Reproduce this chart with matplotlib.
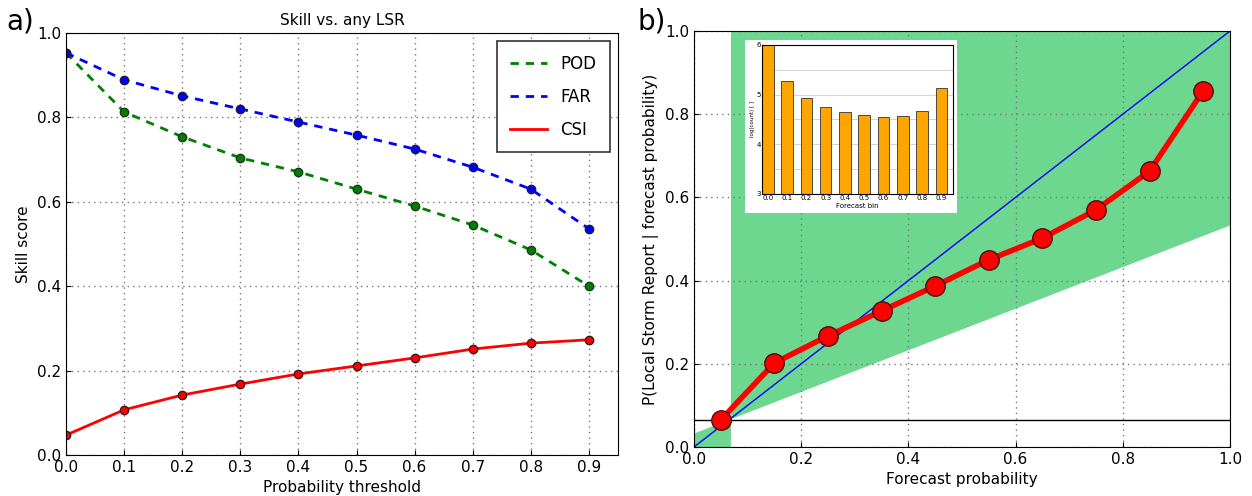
import numpy as np
import matplotlib
matplotlib.use("Agg")
import matplotlib.pyplot as plt
from matplotlib.patches import Rectangle

# panel a) skill scores vs probability threshold
thresholds = [0.0, 0.1, 0.2, 0.3, 0.4, 0.5, 0.6, 0.7, 0.8, 0.9]
pod = [0.953, 0.813, 0.754, 0.704, 0.671, 0.630, 0.590, 0.545, 0.486, 0.400]
far = [0.953, 0.889, 0.851, 0.820, 0.789, 0.758, 0.725, 0.682, 0.630, 0.536]
csi = [0.047, 0.107, 0.142, 0.168, 0.192, 0.211, 0.230, 0.251, 0.265, 0.273]

# panel b) reliability diagram
fcst_prob = [0.05, 0.15, 0.25, 0.35, 0.45, 0.55, 0.65, 0.75, 0.85, 0.95]
obs_freq = [0.065, 0.202, 0.267, 0.327, 0.387, 0.450, 0.502, 0.570, 0.663, 0.856]
clim = 0.068

# inset histogram
bins = [0.0, 0.1, 0.2, 0.3, 0.4, 0.5, 0.6, 0.7, 0.8, 0.9]
logcount = [6.05, 5.28, 4.94, 4.75, 4.65, 4.59, 4.55, 4.57, 4.68, 5.14]

plt.rcParams['font.family'] = ['DejaVu Sans']
fig = plt.figure(figsize=(12.52, 4.96), dpi=100)
gridkw = dict(color='#777777', linestyle=(0, (1, 3)), lw=1.0)

# ---- a)
ax1 = fig.add_axes([0.0527, 0.0827, 0.4409, 0.8508])
ax1.plot(thresholds, pod, '--', color='green', lw=2, dashes=(3, 2.5), label='POD')
ax1.plot(thresholds, far, '--', color='blue', lw=2, dashes=(3, 2.5), label='FAR')
ax1.plot(thresholds, csi, '-', color='red', lw=2, label='CSI')
ax1.plot(thresholds, pod, 'o', color='green', mec='#1a3a1a', ms=6)
ax1.plot(thresholds, far, 'o', color='blue', mec='#1a1a3a', ms=6)
ax1.plot(thresholds, csi, 'o', color='red', mec='#3a1a1a', ms=6)
ax1.set_xlim(0, 0.95)
ax1.set_ylim(0, 1.0)
ax1.set_xticks(thresholds)
ax1.set_yticks([0, 0.2, 0.4, 0.6, 0.8, 1.0])
ax1.grid(True, **gridkw)
ax1.set_title('Skill vs. any LSR', fontsize=11)
ax1.set_xlabel('Probability threshold', fontsize=11)
ax1.set_ylabel('Skill score', fontsize=11)
ax1.tick_params(labelsize=11, direction='in')
leg = ax1.legend(loc='upper right', fontsize=12, fancybox=False, framealpha=1,
                 edgecolor='#333333', borderpad=0.8, labelspacing=0.9, handlelength=2.2)
leg.get_frame().set_linewidth(1.2)

# ---- b)
ax2 = fig.add_axes([0.5543, 0.0988, 0.4281, 0.8387])
green = '#6dd78f'
ax2.fill_between([clim, 1.0], [clim, (1.0 + clim) / 2], [1, 1], color=green, lw=0)
ax2.fill_between([0.0, clim], [0, 0], [clim / 2, clim], color=green, lw=0)
ax2.plot([0, 1], [0, 1], color='blue', lw=1)
ax2.axhline(clim - 0.003, color='k', lw=1)
ax2.plot(fcst_prob, obs_freq, '-', color='red', lw=4)
ax2.plot(fcst_prob, obs_freq, 'o', color='red', mec='#4a1010', ms=14)
ax2.set_xlim(0, 1)
ax2.set_ylim(0, 1)
ax2.set_xticks([0, 0.2, 0.4, 0.6, 0.8, 1.0])
ax2.set_yticks([0, 0.2, 0.4, 0.6, 0.8, 1.0])
ax2.grid(True, **gridkw)
ax2.set_xlabel('Forecast probability', fontsize=11)
ax2.set_ylabel('P(Local Storm Report | forecast probability)', fontsize=11)
ax2.tick_params(labelsize=11, direction='in')

# white backing for the inset
fig.patches.append(Rectangle((0.595, 0.5706), 0.1693, 0.3488, transform=fig.transFigure,
                             facecolor='white', edgecolor='none', zorder=5))
ax3 = fig.add_axes([0.6086, 0.6089, 0.1526, 0.3004], zorder=6)
ax3.bar(bins, logcount, width=0.06, color='orange', edgecolor='#333333', lw=0.6)
ax3.set_xlim(-0.03, 0.96)
ax3.set_ylim(3, 6)
ax3.set_xticks(bins)
ax3.set_yticks([3, 4, 5, 6])
ax3.set_yticks([3.5, 4.5, 5.5], minor=True)
ax3.grid(True, axis='y', which='both', color='#cccccc', linestyle='-', lw=0.6)
ax3.set_axisbelow(True)
ax3.tick_params(labelsize=5, length=2, direction='in', pad=1)
ax3.tick_params(which='minor', length=0)
ax3.set_xlabel('Forecast bin', fontsize=5, labelpad=1)
ax3.set_ylabel('log(count) [ ]', fontsize=4, labelpad=1)

fig.text(0.005, 0.985, 'a)', fontsize=20, va='top')
fig.text(0.509, 0.985, 'b)', fontsize=20, va='top')

fig.savefig('out.png', dpi=100)
